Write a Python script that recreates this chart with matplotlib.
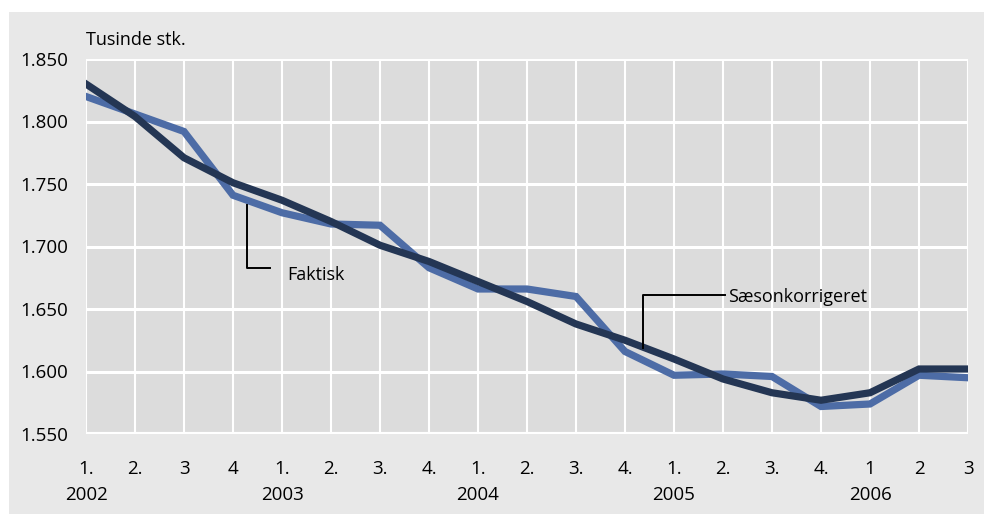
import matplotlib.pyplot as plt
from matplotlib.patches import Rectangle

plt.rcParams["font.family"] = ["Open Sans", "DejaVu Sans"]

quarters = ["1.", "2.", "3", "4", "1.", "2.", "3.", "4.", "1.", "2.", "3.", "4.",
            "1.", "2.", "3.", "4.", "1", "2", "3"]
years = {0: "2002", 4: "2003", 8: "2004", 12: "2005", 16: "2006"}

faktisk = [1.820, 1.806, 1.792, 1.741, 1.727, 1.718, 1.717, 1.683, 1.666, 1.666,
           1.660, 1.616, 1.597, 1.598, 1.596, 1.572, 1.574, 1.597, 1.595]
saeson = [1.830, 1.804, 1.771, 1.751, 1.737, 1.720, 1.701, 1.688, 1.672, 1.656,
          1.638, 1.625, 1.610, 1.594, 1.583, 1.577, 1.583, 1.602, 1.602]

fig = plt.figure(figsize=(9.84, 5.14), dpi=100)
fig.patch.set_facecolor("white")
# outer grey panel
fig.patches.append(Rectangle((9 / 984, 0), 1, 1 - 12 / 514, transform=fig.transFigure,
                             facecolor="#e8e8e8", edgecolor="none", zorder=-1))

ax = fig.add_axes([86 / 984, 1 - 434 / 514, 882 / 984, 375 / 514])
ax.set_facecolor("#dcdcdc")

x = list(range(len(quarters)))
ax.plot(x, faktisk, color="#4d6ca6", lw=5.2, solid_joinstyle="miter", zorder=3)
ax.plot(x, saeson, color="#243654", lw=5.2, solid_joinstyle="miter", zorder=4)

ax.set_xlim(0, 18)
ax.set_ylim(1.550, 1.850)
ax.set_yticks([1.550, 1.600, 1.650, 1.700, 1.750, 1.800, 1.850])
ax.set_yticklabels(["1.550", "1.600", "1.650", "1.700", "1.750", "1.800", "1.850"])

labels = [q + ("\n" + years[i] if i in years else "") for i, q in enumerate(quarters)]
ax.set_xticks(x)
ax.set_xticklabels(labels)
for lbl in ax.get_xticklabels():
    lbl.set_linespacing(1.55)

ax.tick_params(axis="x", length=0, pad=19, labelsize=13.5, colors="black")
ax.tick_params(axis="y", length=0, pad=13, labelsize=13.5, colors="black")
ax.grid(True, color="white", lw=1.5)
ax.grid(True, axis="y", color="white", lw=2.2)
ax.set_axisbelow(True)
for s in ax.spines.values():
    s.set_visible(False)
ax.axvline(18, color="white", lw=1.5, zorder=1)
ax.axhline(1.550, color="white", lw=3, zorder=1)

ax.text(0.002, 1.865, "Tusinde stk.", fontsize=13, va="center", ha="left")

# leader lines
ax.plot([3.29, 3.29, 3.755], [1.7332, 1.6828, 1.6828], color="black", lw=1.4, zorder=5)
ax.text(4.10, 1.6772, "Faktisk", fontsize=13, va="center", ha="left")
ax.plot([11.37, 11.37, 13.04], [1.6188, 1.6612, 1.6612], color="black", lw=1.4, zorder=5)
ax.text(13.10, 1.6596, "Sæsonkorrigeret", fontsize=13, va="center", ha="left")

fig.savefig("out.png", dpi=100, facecolor=fig.get_facecolor())
